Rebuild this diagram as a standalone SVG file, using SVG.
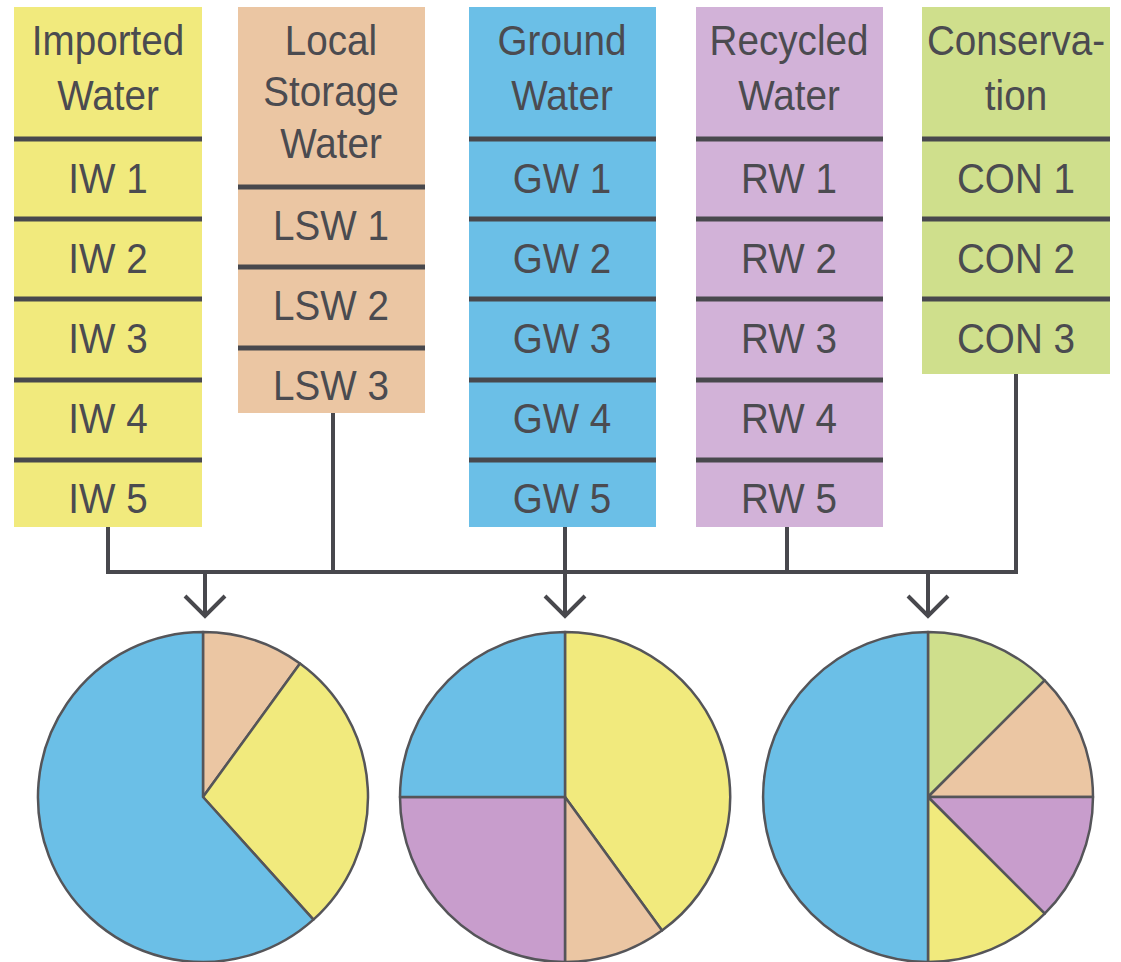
<svg xmlns="http://www.w3.org/2000/svg" width="1121" height="962" viewBox="0 0 1121 962">
<style>
.t{font-family:"Liberation Sans",Arial,sans-serif;font-size:42px;fill:#4b4b50;text-anchor:middle;transform-box:fill-box;transform-origin:center;transform:scaleX(0.92)}
.div{stroke:#48484d;stroke-width:5}
.con{stroke:#48484d;stroke-width:4;fill:none}
.sl{stroke:#555559;stroke-width:2.5;stroke-linejoin:round}
.y{fill:#f1ea7d}.p{fill:#ebc6a3}.b{fill:#6bbfe7}.pu{fill:#d2b2d8}.g{fill:#cfdf8c}.ppie{fill:#c89dcc}
</style>
<rect width="1121" height="962" fill="#ffffff"/>
<g id="imported">
<rect class="y" x="14" y="7" width="188" height="520"/>
<line class="div" x1="14" y1="139" x2="202" y2="139"/><line class="div" x1="14" y1="219" x2="202" y2="219"/><line class="div" x1="14" y1="299" x2="202" y2="299"/><line class="div" x1="14" y1="380" x2="202" y2="380"/><line class="div" x1="14" y1="460" x2="202" y2="460"/>
<text class="t" x="108" y="55">Imported</text><text class="t" x="108" y="110">Water</text>
<text class="t" x="108" y="193">IW 1</text><text class="t" x="108" y="273">IW 2</text><text class="t" x="108" y="353">IW 3</text><text class="t" x="108" y="433">IW 4</text><text class="t" x="108" y="513">IW 5</text>
</g>
<g id="local">
<rect class="p" x="238" y="7" width="187" height="406"/>
<line class="div" x1="238" y1="187" x2="425" y2="187"/><line class="div" x1="238" y1="267" x2="425" y2="267"/><line class="div" x1="238" y1="348" x2="425" y2="348"/>
<text class="t" x="331" y="55">Local</text><text class="t" x="331" y="106">Storage</text><text class="t" x="331" y="158">Water</text>
<text class="t" x="331" y="240">LSW 1</text><text class="t" x="331" y="320">LSW 2</text><text class="t" x="331" y="400">LSW 3</text>
</g>
<g id="ground">
<rect class="b" x="469" y="7" width="187" height="520"/>
<line class="div" x1="469" y1="139" x2="656" y2="139"/><line class="div" x1="469" y1="219" x2="656" y2="219"/><line class="div" x1="469" y1="299" x2="656" y2="299"/><line class="div" x1="469" y1="380" x2="656" y2="380"/><line class="div" x1="469" y1="460" x2="656" y2="460"/>
<text class="t" x="562" y="55">Ground</text><text class="t" x="562" y="110">Water</text>
<text class="t" x="562" y="193">GW 1</text><text class="t" x="562" y="273">GW 2</text><text class="t" x="562" y="353">GW 3</text><text class="t" x="562" y="433">GW 4</text><text class="t" x="562" y="513">GW 5</text>
</g>
<g id="recycled">
<rect class="pu" x="696" y="7" width="187" height="520"/>
<line class="div" x1="696" y1="139" x2="883" y2="139"/><line class="div" x1="696" y1="219" x2="883" y2="219"/><line class="div" x1="696" y1="299" x2="883" y2="299"/><line class="div" x1="696" y1="380" x2="883" y2="380"/><line class="div" x1="696" y1="460" x2="883" y2="460"/>
<text class="t" x="789" y="55">Recycled</text><text class="t" x="789" y="110">Water</text>
<text class="t" x="789" y="193">RW 1</text><text class="t" x="789" y="273">RW 2</text><text class="t" x="789" y="353">RW 3</text><text class="t" x="789" y="433">RW 4</text><text class="t" x="789" y="513">RW 5</text>
</g>
<g id="conservation">
<rect class="g" x="922" y="7" width="188" height="367"/>
<line class="div" x1="922" y1="139" x2="1110" y2="139"/><line class="div" x1="922" y1="219" x2="1110" y2="219"/><line class="div" x1="922" y1="299" x2="1110" y2="299"/>
<text class="t" x="1016" y="55">Conserva-</text><text class="t" x="1016" y="110">tion</text>
<text class="t" x="1016" y="193">CON 1</text><text class="t" x="1016" y="273">CON 2</text><text class="t" x="1016" y="353">CON 3</text>
</g>
<g id="connectors">
<path class="con" d="M108,527 V572 H1016 V374"/>
<path class="con" d="M333,413 V572"/>
<path class="con" d="M565,527 V615"/>
<path class="con" d="M787,527 V572"/>
<path class="con" d="M205,572 V615"/>
<path class="con" d="M928,572 V615"/>
<path class="con" d="M185,596 L205,616 L225,596"/>
<path class="con" d="M545,596 L565,616 L585,596"/>
<path class="con" d="M908,596 L928,616 L948,596"/>
</g>
<g id="pie1">
<path class="sl p" d="M203,797 L203,632 A165,165 0 0 1 300,663.5 Z"/>
<path class="sl y" d="M203,797 L300,663.5 A165,165 0 0 1 313.4,919.6 Z"/>
<path class="sl b" d="M203,797 L313.4,919.6 A165,165 0 1 1 203,632 Z"/>
</g>
<g id="pie2">
<path class="sl y" d="M565,797 L565,632 A165,165 0 0 1 662,930.5 Z"/>
<path class="sl p" d="M565,797 L662,930.5 A165,165 0 0 1 565,962 Z"/>
<path class="sl ppie" d="M565,797 L565,962 A165,165 0 0 1 400,797 Z"/>
<path class="sl b" d="M565,797 L400,797 A165,165 0 0 1 565,632 Z"/>
</g>
<g id="pie3">
<path class="sl g" d="M928,797 L928,632 A165,165 0 0 1 1044.7,680.3 Z"/>
<path class="sl p" d="M928,797 L1044.7,680.3 A165,165 0 0 1 1093,797 Z"/>
<path class="sl ppie" d="M928,797 L1093,797 A165,165 0 0 1 1044.7,913.7 Z"/>
<path class="sl y" d="M928,797 L1044.7,913.7 A165,165 0 0 1 928,962 Z"/>
<path class="sl b" d="M928,797 L928,962 A165,165 0 0 1 928,632 Z"/>
</g>
</svg>
